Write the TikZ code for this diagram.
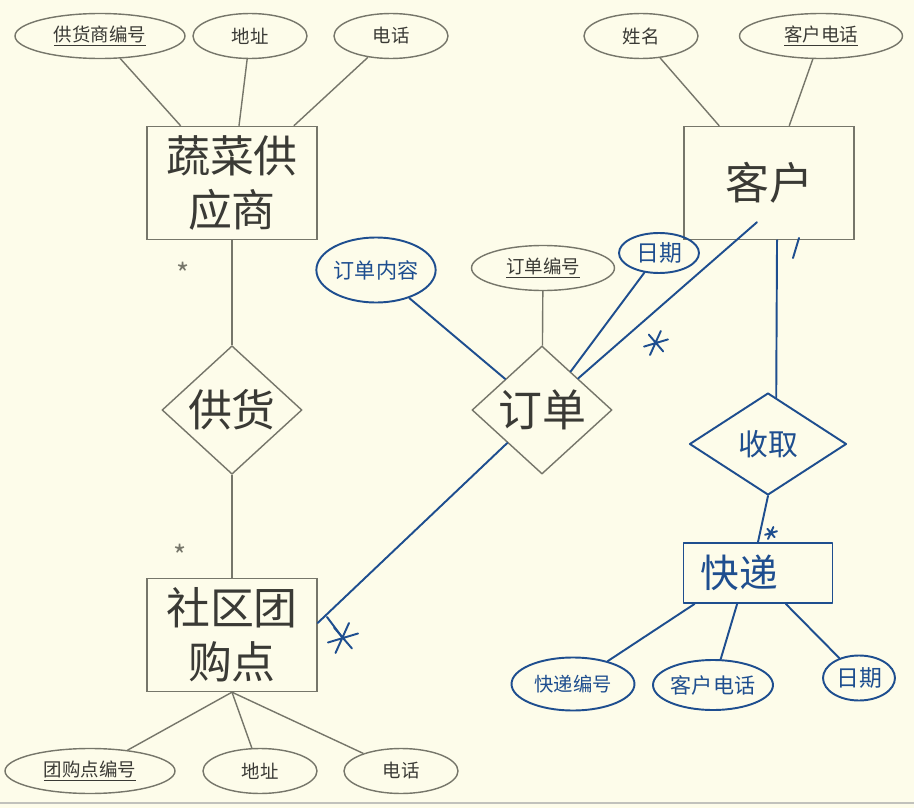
\documentclass[tikz,border=0pt]{standalone}
\usepackage{fontspec}
\usetikzlibrary{shapes.geometric,calc}
\newfontfamily\cjk{Noto Sans CJK SC}
\definecolor{Paper}{HTML}{FDFCEA}
\definecolor{Pen}{HTML}{76766A}
\definecolor{Print}{HTML}{3A3A35}
\definecolor{Ink}{HTML}{1E4E8F}
\tikzset{every node/.style={font=\cjk,text=Print},entity/.style={draw=Pen,line width=.8pt,
 minimum width=3.4cm,minimum height=2.26cm,align=center,font=\cjk\fontsize{25}{31}\selectfont},
 attr/.style={ellipse,draw=Pen,line width=.8pt,minimum width=2.28cm,minimum height=.9cm,
 inner sep=0pt,font=\cjk\fontsize{10.5}{12}\selectfont},rel/.style={diamond,draw=Pen,
 line width=.8pt,minimum width=2.8cm,minimum height=2cm,inner sep=0pt,
 font=\cjk\fontsize{25}{31}\selectfont},link/.style={draw=Pen,line width=.8pt},
 ink/.style={draw=Ink,line width=1.1pt,line cap=round,line join=round},
 inkattr/.style={ellipse,ink,text=Ink,inner sep=0pt},
 starmark/.style={text=Pen,font=\cjk\fontsize{16}{16}\selectfont}}

\begin{document}
\begin{tikzpicture}[x=.02cm,y=-.02cm]
\fill[Paper] (0,0) rectangle (914,808);
\useasboundingbox (0,0) rectangle (914,808);
\draw[Pen!45,line width=1.4pt] (0,803)--(914,803);
% printed part
\node[entity] (supplier) at (232,183) {蔬菜供\\应商};
\node[entity] (grp) at (232,635) {社区团\\购点};
\node[entity] (customer) at (769,183) {客户};
\node[rel] (supply) at (232,410) {供货};
\node[rel] (order) at (542,410) {订单};
\node[attr,minimum width=3.4cm] (supId) at (100,36) {\underline{供货商编号}};
\node[attr] (supAddr) at (250,36) {地址};
\node[attr] (supTel) at (391,36) {电话};
\node[attr,minimum width=3.4cm] (grpId) at (90,771) {\underline{团购点编号}};
\node[attr] (grpAddr) at (260,771) {地址};
\node[attr] (grpTel) at (401,771) {电话};
\node[attr] (cusName) at (641,36) {姓名};
\node[attr,minimum width=3.26cm] (cusTel) at (821,36) {\underline{客户电话}};
\node[attr,minimum width=2.86cm] (ordId) at (543,268) {\underline{订单编号}};
\foreach \a in {supId,supAddr,supTel} \draw[link] (\a)--(supplier);
\foreach \a in {grpId,grpAddr,grpTel} \draw[link] (grp.south)--(\a);
\foreach \a in {cusName,cusTel} \draw[link] (\a)--(customer);
\draw[link] (ordId)--(order);
\draw[link] (supplier)--(supply)--(grp);
\node[starmark] (s1) at (183,273) {*};
\node[starmark] (s2) at (180,555) {*};
% pen additions
\node[inkattr,minimum width=2.3cm,minimum height=1.3cm,font=\cjk\fontsize{12}{12}\selectfont]
 (ordContent) at (376,270) {订单内容};
\node[inkattr,minimum width=1.6cm,minimum height=.8cm,font=\cjk\fontsize{13}{13}\selectfont]
 (ordDate) at (659,253) {日期};
\node[diamond,ink,text=Ink,minimum width=3.14cm,minimum height=2.04cm,inner sep=0pt,
 font=\cjk\fontsize{17}{17}\selectfont] (take) at (768,444) {收取};
\node[ink,text=Ink,text width=2.3cm,align=left,inner xsep=.34cm,minimum height=1.2cm,
 font=\cjk\fontsize{22}{22}\selectfont] (express) at (758,573) {快递};
\node[inkattr,minimum width=2.46cm,minimum height=1.06cm,font=\cjk\fontsize{11}{11}\selectfont]
 (expId) at (573,684) {快递编号};
\node[inkattr,minimum width=2.4cm,minimum height=1cm,font=\cjk\fontsize{12}{12}\selectfont]
 (expTel) at (713,685) {客户电话};
\node[inkattr,minimum width=1.44cm,minimum height=.9cm,font=\cjk\fontsize{13}{13}\selectfont]
 (expDate) at (859,678) {日期};
\coordinate (ordEnd) at ($(customer.south)+(-12,-18)$);
\draw[ink] (ordContent)--(order);
\draw[ink] (ordDate)--(order);
\draw[ink] (order)--(ordEnd);
\draw[ink] (order)--(grp.8);
\draw[ink] (customer.-82)--(take.80);
\draw[ink] (take.south)--(express.north);
\draw[ink] (express.-154)--(expId);
\draw[ink] (express.-124)--(expTel);
\draw[ink] (express.-48)--(expDate);
\draw[ink] (799,238)--(793,258);
\draw[ink] (327,617)--(342,637);
\foreach \x/\y/\r in {343/638/15,656/343/12,771/533/6}
 \draw[ink] (\x-\r,\y+.3*\r)--(\x+\r,\y-.3*\r) (\x-.5*\r,\y+\r)--(\x+.4*\r,\y-\r)
 (\x-.6*\r,\y-.7*\r)--(\x+.6*\r,\y+.7*\r);
\end{tikzpicture}
\end{document}
